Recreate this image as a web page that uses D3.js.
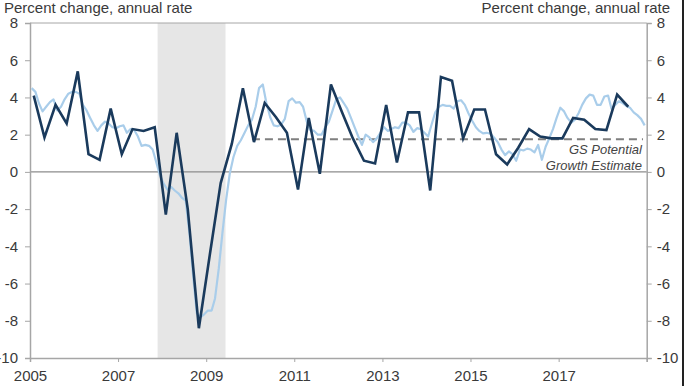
<!DOCTYPE html>
<html>
<head>
<meta charset="utf-8">
<script src="https://cdn.jsdelivr.net/npm/d3@7"></script>
<style>
  body { margin: 0; background: #fff; }
  text { font-family: "Liberation Sans", Arial, sans-serif; }
</style>
</head>
<body>
<svg id="chart" width="684" height="386"></svg>
<script>
// real GDP growth, quarterly, 2005Q1 - 2018Q3
const gdpStart = 2005;
const gdpGrowth = [
  4.1, 1.85, 3.6, 2.6,
  5.4, 0.95, 0.65, 3.4,
  0.95, 2.3, 2.2, 2.4,
  -2.3, 2.1, -2.0, -8.4,
  -4.4, -0.6, 1.5, 4.5,
  1.6, 3.7, 2.95, 2.1,
  -0.95, 2.9, -0.1, 4.7,
  3.2, 1.8, 0.6, 0.45,
  3.6, 0.5, 3.2, 3.2,
  -1.0, 5.1, 4.9, 1.8,
  3.35, 3.35, 0.95, 0.4,
  1.3, 2.3, 1.9, 1.8,
  1.8, 2.9, 2.8, 2.3,
  2.25, 4.15, 3.5
];

// activity indicator, monthly, Jan 2005 - Dec 2018
const caiStart = 2005;
const caiMonthly = [
  4.5, 4.3, 3.7, 3.25, 3.5, 3.75, 3.9, 3.3, 3.5, 3.9, 4.2, 4.3,
  4.3, 4.2, 3.6, 3.3, 2.9, 2.5, 2.2, 2.5, 2.7, 2.6, 2.4, 2.35,
  2.45, 2.5, 2.1, 2.3, 2.25, 1.9, 1.4, 1.45, 1.4, 1.2, 0.5, -0.2,
  -0.65, -0.95, -0.8, -1.0, -1.15, -1.4, -1.55, -3.3, -5.6, -7.6, -7.8, -7.65,
  -7.45, -7.45, -6.8, -5.2, -3.3, -1.5, -0.1, 0.8, 1.4, 1.7, 2.1, 2.5,
  2.8, 3.5, 4.5, 4.7, 3.7, 2.95, 2.5, 2.45, 2.55, 2.85, 3.8, 3.95,
  3.72, 3.75, 3.5, 2.7, 2.24, 2.2, 2.0, 2.0, 2.4, 2.7, 3.3, 3.9,
  4.0, 3.7, 3.4, 2.9, 2.4, 1.9, 1.45, 2.0, 1.85, 1.6, 1.8, 2.1,
  2.4, 2.2, 2.3, 2.4, 2.35, 2.65, 2.65, 2.5, 2.15, 2.35, 2.3, 2.1,
  1.9, 2.6, 3.2, 3.5, 3.6, 3.55, 3.55, 3.4, 3.8, 3.85, 3.6, 3.15,
  2.75, 2.4, 2.2, 2.07, 2.1, 2.05, 1.85, 1.6, 1.2, 0.9, 1.1, 0.95,
  0.6, 1.2, 1.15, 1.25, 1.2, 1.05, 1.45, 0.65, 1.35, 1.8, 2.3, 2.9,
  3.45, 3.25, 2.9, 2.65, 2.8, 3.15, 3.6, 3.95, 4.15, 4.1, 3.6, 3.6,
  4.05, 4.1, 3.4, 3.6, 3.8, 3.7, 3.55, 3.45, 3.2, 3.05, 2.85, 2.5
];

// recession (Dec 2007 - Jun 2009) and potential growth line
const recession = [new Date(2007, 10, 25), new Date(2009, 5, 10)];
const potentialGrowth = 1.75;
const potentialSpan = [new Date(2010, 0, 15), new Date(2018, 11, 1)];
const potentialLabel = ["GS Potential", "Growth Estimate"];

const yTicks = [-10, -8, -6, -4, -2, 0, 2, 4, 6, 8];
const xTickYears = [2005, 2007, 2009, 2011, 2013, 2015, 2017, 2019];
const axisTitle = "Percent change, annual rate";

let gdpData = gdpGrowth.map((v, i) => ({ date: new Date(gdpStart, 3 * i + 1, 1), value: v }));
let caiData = caiMonthly.map((v, i) => ({ date: new Date(caiStart, i, 15), value: v }));

const width = 684, height = 386;
const margin = { top: 23, right: 37.3, bottom: 28, left: 30 };

let svg = d3.select("#chart");

let x = d3.scaleTime()
  .domain([new Date(2005, 0, 1), new Date(2019, 0, 1)])
  .range([margin.left, width - margin.right]);

let y = d3.scaleLinear()
  .domain([-10, 8])
  .range([height - margin.bottom, margin.top]);

const axisColor = "#a6a6a6";
const textColor = "#3a3a3a";

// shaded recession
svg.append("rect")
  .attr("x", x(recession[0]))
  .attr("y", y(8))
  .attr("width", x(recession[1]) - x(recession[0]))
  .attr("height", y(-10) - y(8))
  .attr("fill", "#e6e6e6");

// top border
svg.append("line")
  .attr("x1", x.range()[0]).attr("x2", x.range()[1])
  .attr("y1", y(8)).attr("y2", y(8))
  .attr("stroke", axisColor);

// zero line
svg.append("line")
  .attr("x1", x.range()[0]).attr("x2", x.range()[1])
  .attr("y1", y(0)).attr("y2", y(0))
  .attr("stroke", "#8c8c8c")
  .attr("stroke-width", 1.2);

// axes
function styleAxis(g) {
  g.selectAll(".domain").attr("stroke", axisColor).attr("stroke-width", 1.5);
  g.selectAll(".tick line").attr("stroke", axisColor);
  g.selectAll(".tick text")
    .attr("fill", textColor)
    .style("font-size", "15px")
    .style("font-family", '"Liberation Sans", Arial, sans-serif');
}

svg.append("g")
  .attr("transform", `translate(${margin.left},0)`)
  .call(d3.axisLeft(y).tickValues(yTicks).tickSize(5).tickPadding(7).tickFormat(d => String(d)))
  .call(styleAxis);

svg.append("g")
  .attr("transform", `translate(${width - margin.right},0)`)
  .call(d3.axisRight(y).tickValues(yTicks).tickSize(5).tickPadding(5).tickFormat(d => String(d)))
  .call(styleAxis);

svg.append("g")
  .attr("transform", `translate(0,${height - margin.bottom})`)
  .call(d3.axisBottom(x)
    .tickValues(xTickYears.map(yr => new Date(yr, 0, 1)))
    .tickSize(4).tickPadding(8)
    .tickFormat(d => d.getFullYear() < 2019 ? d3.timeFormat("%Y")(d) : ""))
  .call(styleAxis);

// potential growth estimate
svg.append("line")
  .attr("x1", x(potentialSpan[0])).attr("x2", x(potentialSpan[1]))
  .attr("y1", y(potentialGrowth)).attr("y2", y(potentialGrowth))
  .attr("stroke", "#7f7f7f")
  .attr("stroke-width", 2)
  .attr("stroke-dasharray", "8,5");

svg.append("g")
  .selectAll("text")
  .data(potentialLabel)
  .join("text")
  .attr("x", x(potentialSpan[1]) - 1)
  .attr("y", (d, i) => y(potentialGrowth) + 15 + i * 15.5)
  .attr("text-anchor", "end")
  .attr("fill", "#444")
  .style("font-size", "13px")
  .style("font-style", "italic")
  .text(d => d);

let line = d3.line()
  .x(d => x(d.date))
  .y(d => y(d.value));

svg.append("path")
  .datum(caiData)
  .attr("fill", "none")
  .attr("stroke", "#a9cdea")
  .attr("stroke-width", 2.2)
  .attr("stroke-linejoin", "round")
  .attr("d", line);

svg.append("path")
  .datum(gdpData)
  .attr("fill", "none")
  .attr("stroke", "#1a3a5c")
  .attr("stroke-width", 2.6)
  .attr("stroke-linejoin", "miter")
  .attr("d", line);

// axis titles
svg.append("text")
  .attr("x", 4)
  .attr("y", 13)
  .attr("fill", textColor)
  .style("font-size", "15px")
  .text(axisTitle);

svg.append("text")
  .attr("x", 670)
  .attr("y", 13)
  .attr("text-anchor", "end")
  .attr("fill", textColor)
  .style("font-size", "15px")
  .text(axisTitle);

// dark frame edge on the right of the picture
svg.append("line")
  .attr("x1", width - 1).attr("x2", width - 1)
  .attr("y1", 0).attr("y2", height)
  .attr("stroke", "#222")
  .attr("stroke-width", 2);
</script>
</body>
</html>
